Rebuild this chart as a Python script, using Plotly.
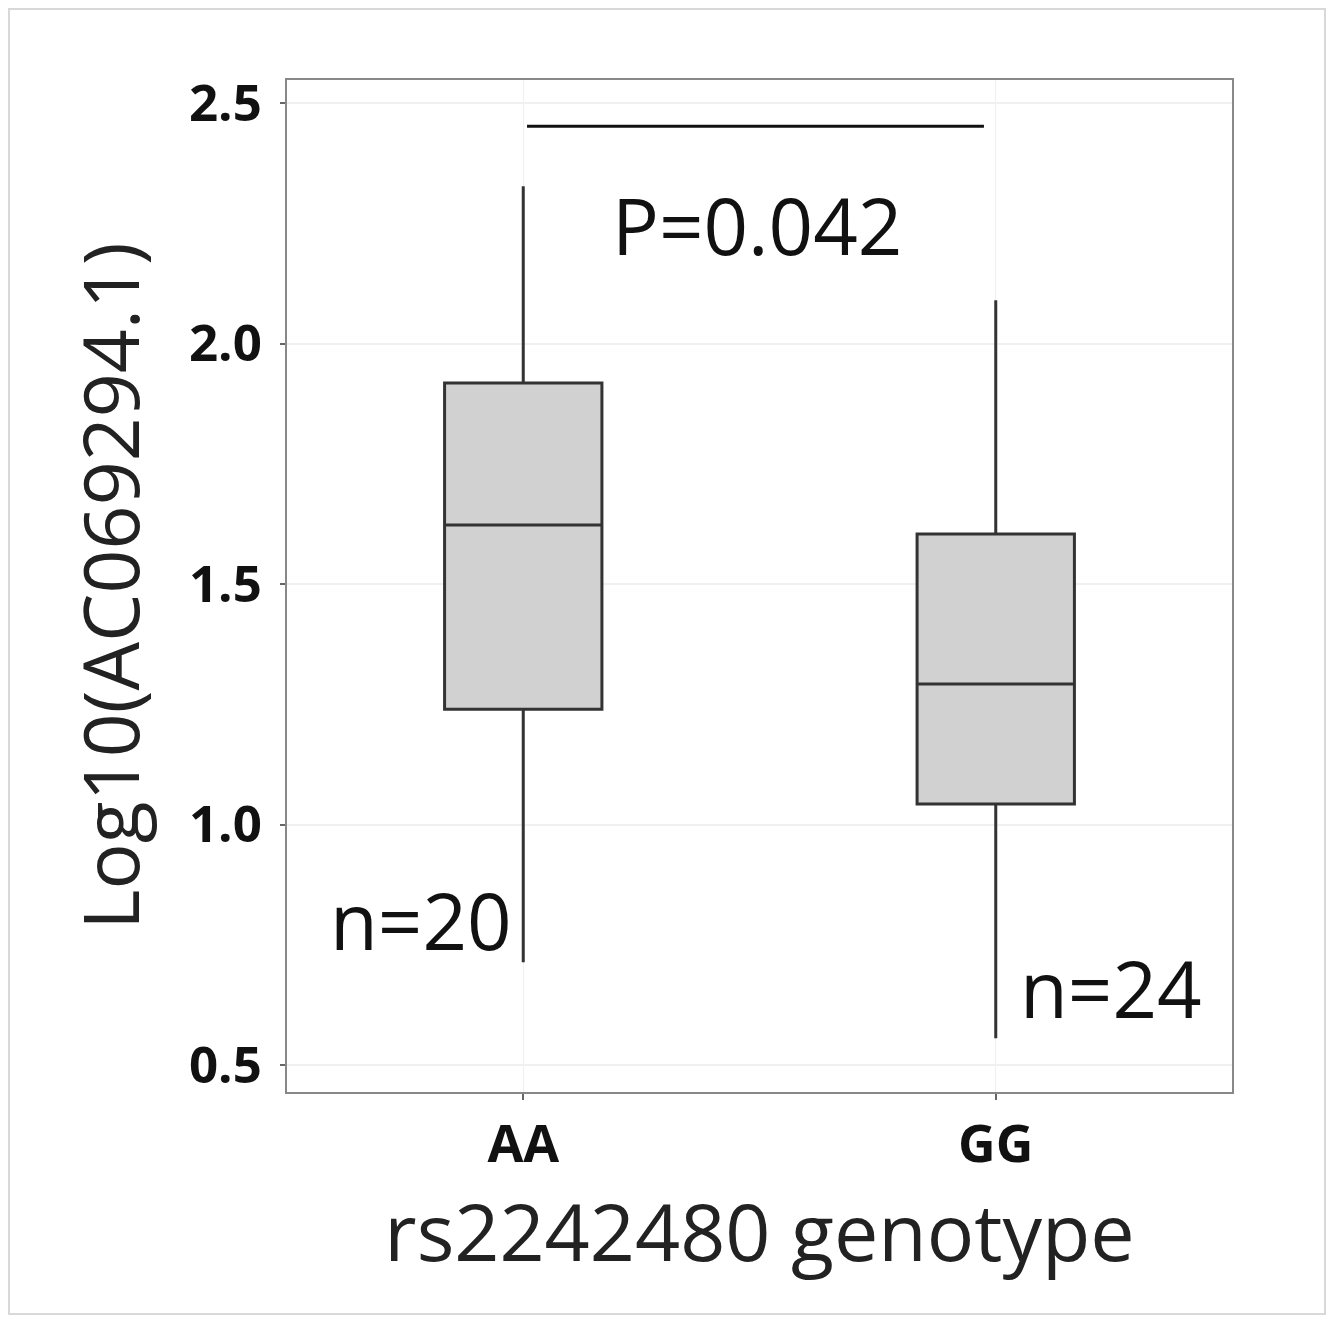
import plotly.graph_objects as go

genotypes = ["AA", "GG"]
q1 = [1.24, 1.043]
median = [1.623, 1.292]
q3 = [1.918, 1.604]
lower = [0.714, 0.556]
upper = [2.327, 2.09]
n_labels = ["n=20", "n=24"]
p_label = "P=0.042"
y_ticks = [0.5, 1.0, 1.5, 2.0, 2.5]

FONT = "Open Sans"

fig = go.Figure()
fig.add_trace(go.Box(
    x=genotypes, q1=q1, median=median, q3=q3,
    lowerfence=lower, upperfence=upper,
    fillcolor="#d1d1d1", line=dict(color="#333333", width=3),
    width=0.333, whiskerwidth=0, boxpoints=False, showlegend=False,
    hoverinfo="skip",
))

# significance bar
fig.add_shape(type="line", xref="x", yref="y", x0=0.008, x1=0.975, y0=2.452, y1=2.452,
              line=dict(color="#111111", width=3))
fig.add_annotation(x=0.494, y=2.246, xref="x", yref="y", text=p_label, showarrow=False,
                   font=dict(family=FONT, size=78, color="#111111"))
fig.add_annotation(x=-0.217, y=0.801, xref="x", yref="y", text=n_labels[0], showarrow=False,
                   font=dict(family=FONT, size=78, color="#111111"))
fig.add_annotation(x=1.243, y=0.66, xref="x", yref="y", text=n_labels[1], showarrow=False,
                   font=dict(family=FONT, size=78, color="#111111"))

# figure size compensates for the 8px page margin
W, H = 1318, 1307
L, R, T, B = 279, 1224, 72, 1084
pw, ph = R - L, B - T
fig.add_shape(type="rect", xref="paper", yref="paper",
              x0=(1 - L) / pw, x1=(1317 - L) / pw,
              y0=(B - 1306) / ph, y1=(B - 1) / ph,
              line=dict(color="#d8d8d8", width=2), layer="below")

fig.update_layout(
    width=W, height=H,
    margin=dict(l=L, r=W - R, t=T, b=H - B),
    paper_bgcolor="white", plot_bgcolor="white",
    font=dict(family=FONT, color="#111111"),
)
fig.update_xaxes(
    type="category", range=[-0.5, 1.5],
    showline=True, linecolor="#888888", linewidth=2, mirror=True,
    showgrid=True, gridcolor="#f0f0f0", gridwidth=1,
    ticks="outside", ticklen=6, tickcolor="#666666", tickwidth=2,
    tickfont=dict(family=FONT, size=52, color="#111111", weight="bold"),
    title=dict(text="rs2242480 genotype", font=dict(family=FONT, size=79, color="#222222"), standoff=29),
)
fig.update_yaxes(
    range=[0.444, 2.548], tickvals=y_ticks, ticktext=[f"{v:.1f}" for v in y_ticks],
    showline=True, linecolor="#888888", linewidth=2, mirror=True,
    showgrid=True, gridcolor="#f0f0f0", gridwidth=2, zeroline=False,
    ticks="outside", ticklen=5, tickcolor="#666666", tickwidth=2, ticklabelstandoff=8,
    tickfont=dict(family=FONT, size=51, color="#111111", weight="bold"),
    title=dict(text="Log10(AC069294.1)", font=dict(family=FONT, size=77, color="#222222"), standoff=24),
)

fig.write_html("out.html")
